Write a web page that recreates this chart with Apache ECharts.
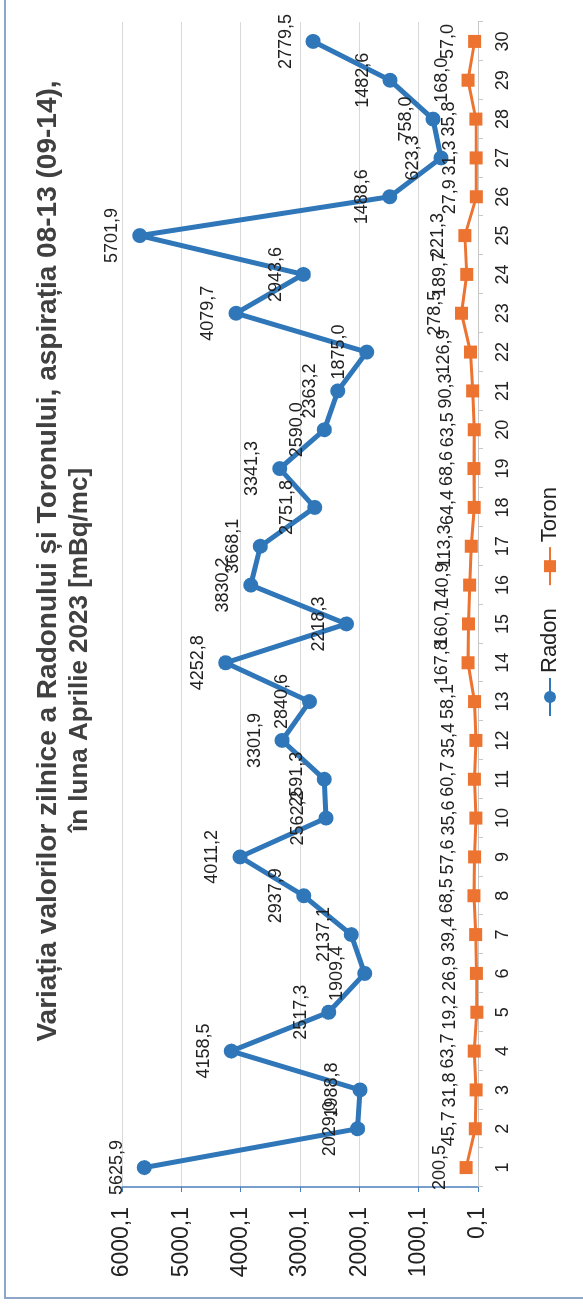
<!DOCTYPE html>
<html>
<head>
<meta charset="utf-8">
<script src="https://cdn.jsdelivr.net/npm/echarts@6/dist/echarts.min.js"></script>
<style>
html,body{margin:0;padding:0;width:583px;height:1311px;overflow:hidden;background:#fff;}
#chart{position:absolute;left:0;top:0;width:1311px;height:583px;transform-origin:0 0;transform:translate(0,1311px) rotate(-90deg);}
</style>
</head>
<body>
<div id="chart"></div>
<script>
const days = ['1','2','3','4','5','6','7','8','9','10','11','12','13','14','15','16','17','18','19','20','21','22','23','24','25','26','27','28','29','30'];
const radon = [5625.9,2029.0,1988.8,4158.5,2517.3,1909.4,2137.1,2937.9,4011.2,2562.2,2591.3,3301.9,2840.6,4252.8,2218.3,3830.2,3668.1,2751.8,3341.3,2590.0,2363.2,1875.0,4079.7,2943.6,5701.9,1488.6,623.3,758.0,1482.6,2779.5];
const toron = [200.5,45.7,31.8,63.7,19.2,26.9,39.4,68.5,57.6,35.6,60.7,35.4,58.1,167.8,160.7,140.9,113.3,64.4,68.6,63.5,90.3,126.9,278.5,189.7,221.3,27.9,31.3,35.8,168.0,57.0];
const titleLine1 = 'Variația valorilor zilnice a Radonului și Toronului, aspirația 08-13 (09-14),';
const titleLine2 = 'în luna Aprilie 2023 [mBq/mc]';
const seriesNames = ['Radon','Toron'];

const FONT = '"Liberation Sans", Arial, sans-serif';
const fmt = v => Number(v).toFixed(1).replace('.', ',');

const chart = echarts.init(document.getElementById('chart'), null, {renderer:'canvas', width:1311, height:583});
chart.setOption({
  backgroundColor:'#ffffff',
  animation:false,
  textStyle:{fontFamily:FONT},
  graphic:[
    {type:'rect', shape:{x:13, y:5, width:1320, height:600}, style:{fill:'none', stroke:'#8ea6c8', lineWidth:2}, silent:true},
    {type:'text', x:750, y:48, style:{text:titleLine1, font:'bold 28px '+FONT, fill:'#404040', textAlign:'center', textVerticalAlign:'middle'}},
    {type:'text', x:661, y:80, style:{text:titleLine2, font:'bold 26px '+FONT, fill:'#404040', textAlign:'center', textVerticalAlign:'middle'}}
  ],
  legend:{
    data:seriesNames,
    left:589, top:534,
    itemWidth:38, itemHeight:15, itemGap:22,
    textStyle:{fontSize:22, color:'#222', fontFamily:FONT}
  },
  grid:{left:124, right:22, top:122, bottom:105, containLabel:false},
  xAxis:{
    type:'category', data:days, boundaryGap:true,
    axisLine:{show:true, lineStyle:{color:'#c8c8c8', width:1}},
    axisTick:{show:true, length:5, lineStyle:{color:'#c8c8c8'}},
    axisLabel:{fontSize:18, color:'#222', margin:16, fontFamily:FONT}
  },
  yAxis:{
    type:'value', min:0.1, max:6000.1, interval:1000,
    axisLine:{show:true, lineStyle:{color:'#4a7ebb', width:1.5}},
    axisTick:{show:true, length:5, lineStyle:{color:'#4a7ebb'}},
    axisLabel:{fontSize:23, color:'#222', margin:20, fontFamily:FONT, formatter:v=>fmt(v)},
    splitLine:{show:true, lineStyle:{color:'#d9d9d9', width:1}}
  },
  series:[
    {name:seriesNames[0], type:'line', data:radon, color:'#2f77b9',
     symbol:'circle', symbolSize:15, lineStyle:{width:5, color:'#2f77b9'}, itemStyle:{color:'#2f77b9'},
     label:{show:true, position:'top', distance:11, fontSize:18, color:'#222', fontFamily:FONT, formatter:p=>fmt(p.value)}},
    {name:seriesNames[1], type:'line', data:toron, color:'#ec7330',
     symbol:'rect', symbolSize:13, lineStyle:{width:3, color:'#ec7330'}, itemStyle:{color:'#ec7330'},
     label:{show:true, position:'top', distance:11, fontSize:18, color:'#222', fontFamily:FONT, formatter:p=>fmt(p.value)}}
  ]
});
</script>
</body>
</html>
